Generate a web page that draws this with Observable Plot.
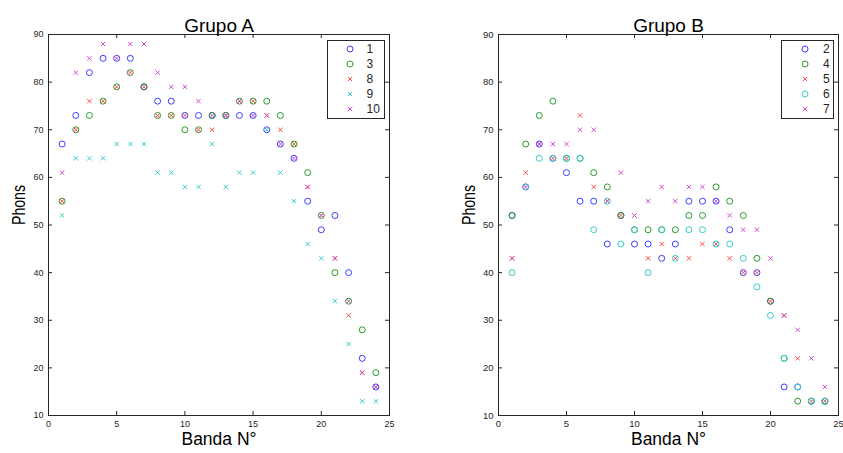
<!DOCTYPE html>
<html><head><meta charset="utf-8">
<script src="https://cdn.jsdelivr.net/npm/d3@7"></script>
<script src="https://cdn.jsdelivr.net/npm/@observablehq/plot@0.6"></script>
<style>
body{margin:0;background:#fff;}
#wrap{position:relative;width:843px;height:453px;overflow:hidden;background:#fff;font-family:"Liberation Sans",Arial,sans-serif;}
.panel{position:absolute;top:0;}
.panel svg{overflow:visible;}
.legend{position:absolute;border:1px solid #262626;background:#fff;box-sizing:border-box;}
.legend .row{position:absolute;left:0;height:14px;width:100%;}
.legend .row svg{position:absolute;top:0;}
.legend .row span{position:absolute;top:0;line-height:14px;font-size:12px;color:#262626;}
</style></head><body><div id="wrap"></div>
<script>
// ---- data ----
const bands = [1,2,3,4,5,6,7,8,9,10,11,12,13,14,15,16,17,18,19,20,21,22,23,24];
const xTicks = [0,5,10,15,20,25];
const yTicks = [10,20,30,40,50,60,70,80,90];
const titleA = "Grupo A";
const titleB = "Grupo B";
const xLabel = "Banda N°";
const yLabel = "Phons";

// Grupo A
const namesA = ["1","3","8","9","10"];
const a1  = [67,73,82,85,85,85,79,76,76,73,73,73,73,73,73,70,67,64,55,49,52,40,22,16];
const a3  = [55,70,73,76,79,82,79,73,73,70,70,73,73,76,76,76,73,67,61,52,40,34,28,19];
const a8  = [55,70,76,76,79,82,79,73,73,73,70,70,73,76,76,73,70,67,58,52,43,31,19,16];
const a9  = [52,64,64,64,67,67,67,61,61,58,58,67,58,61,61,70,61,55,46,43,34,25,13,13];
const a10 = [61,82,85,88,85,88,88,82,79,79,76,73,73,76,73,73,67,64,58,52,43,34,19,16];

// Grupo B
const namesB = ["2","4","5","6","7"];
const b2 = [52,58,67,64,61,55,55,46,52,46,46,43,46,55,55,55,49,40,40,34,16,16,13,13];
const b4 = [52,67,73,76,64,64,61,58,52,49,49,49,49,52,52,58,55,52,43,34,22,13,13,13];
const b5 = [43,61,67,64,64,73,58,55,52,52,43,46,43,43,46,46,43,40,40,34,31,22,13,13];
const b6 = [40,58,64,64,64,64,49,55,46,49,40,49,43,49,49,46,46,43,37,31,22,16,13,13];
const b7 = [43,58,67,67,67,70,70,55,61,52,55,58,55,58,58,55,52,49,49,43,31,28,22,16];

const symbols = ["circle","circle","times","times","times"];
const symbolsB = ["circle","circle","times","circle","times"];
const colors = ["#3d3dff","#2a9a2a","#ff4a4a","#3acccc","#d04cd0"];

// ---- drawing ----
const H = 453, MT = 34, MB = 38, TICK = 4, AX = "#262626";

function panel(opts) {
  const {names, series, syms, title, width, ml, mr, left, tickFont, legend} = opts;
  const fw = width - ml - mr, fh = H - MT - MB;
  const marks = [
    Plot.ruleX(xTicks, {x: d => d, insetTop: fh - TICK, stroke: AX}),
    Plot.ruleX(xTicks, {x: d => d, insetBottom: fh - TICK, stroke: AX}),
    Plot.ruleY(yTicks, {y: d => d, insetRight: fw - TICK, stroke: AX}),
    Plot.ruleY(yTicks, {y: d => d, insetLeft: fw - TICK, stroke: AX}),
    Plot.axisX({ticks: xTicks, tickSize: 0, tickPadding: 5, label: null, fontSize: tickFont, fill: AX}),
    Plot.axisY({ticks: yTicks, tickSize: 0, tickPadding: 5, label: null, fontSize: tickFont, fill: AX}),
  ];
  series.forEach((vals, i) => {
    const rows = bands.map((b, j) => ({band: b, v: vals[j]}));
    marks.push(Plot.dot(rows, {x: "band", y: "v", symbol: syms[i], r: syms[i] === "circle" ? 3 : 2.1,
      stroke: colors[i], fill: "none", strokeWidth: 1}));
  });
  marks.push(Plot.frame({stroke: AX}));
  marks.push(Plot.text([title], {text: d => d, frameAnchor: "top", dy: -16, fontSize: 19, fill: "#000"}));
  marks.push(Plot.text([xLabel], {text: d => d, frameAnchor: "bottom", dy: 29, fontSize: 17.5, fill: "#000"}));
  marks.push(Plot.text([yLabel], {text: d => d, frameAnchor: "left", dx: ml - 48 - 30, rotate: -90, fontSize: 19, fill: "#000"}));
  const svg = Plot.plot({
    width, height: H, marginTop: MT, marginBottom: MB, marginLeft: ml, marginRight: mr,
    x: {domain: [0, 25]}, y: {domain: [10, 90]},
    style: {fontFamily: "'Liberation Sans', Arial, sans-serif", background: "transparent", overflow: "visible"},
    marks
  });
  const div = document.createElement("div");
  div.className = "panel";
  div.style.left = left + "px";
  div.appendChild(svg);
  document.getElementById("wrap").appendChild(div);
  svg.querySelectorAll("text").forEach(t => {
    if (t.textContent === yLabel) { t.setAttribute("textLength", 40); t.setAttribute("lengthAdjust", "spacingAndGlyphs"); }
  });

  // legend
  const lg = document.createElement("div");
  lg.className = "legend";
  lg.style.left = legend.left + "px"; lg.style.top = "40px";
  lg.style.width = legend.w + "px"; lg.style.height = "79px";
  names.forEach((n, i) => {
    const row = document.createElement("div");
    row.className = "row";
    row.style.top = (1 + i * 14.9) + "px";
    const s = d3.create("svg").attr("width", 12).attr("height", 14).style("left", (legend.mx - 6) + "px");
    const sym = d3.symbol(syms[i] === "circle" ? d3.symbolCircle : d3.symbolTimes,
      syms[i] === "circle" ? Math.PI * 9 : Math.PI * 2.1 * 2.1);
    s.append("path").attr("d", sym()).attr("transform", "translate(6,7)")
      .attr("fill", "none").attr("stroke", colors[i]).attr("stroke-width", 1);
    row.appendChild(s.node());
    const sp = document.createElement("span");
    sp.textContent = n;
    sp.style.left = legend.lx + "px";
    row.appendChild(sp);
    lg.appendChild(row);
  });
  document.getElementById("wrap").appendChild(lg);
}

panel({names: namesA, series: [a1, a3, a8, a9, a10], syms: symbols, title: titleA,
  width: 421, ml: 48, mr: 32, left: 0, tickFont: 9,
  legend: {left: 327, w: 58, mx: 22, lx: 38.5}});
panel({names: namesB, series: [b2, b4, b5, b6, b7], syms: symbolsB, title: titleB,
  width: 393, ml: 48, mr: 5, left: 450, tickFont: 9.5,
  legend: {left: 781, w: 53, mx: 22.5, lx: 41}});
</script></body></html>
